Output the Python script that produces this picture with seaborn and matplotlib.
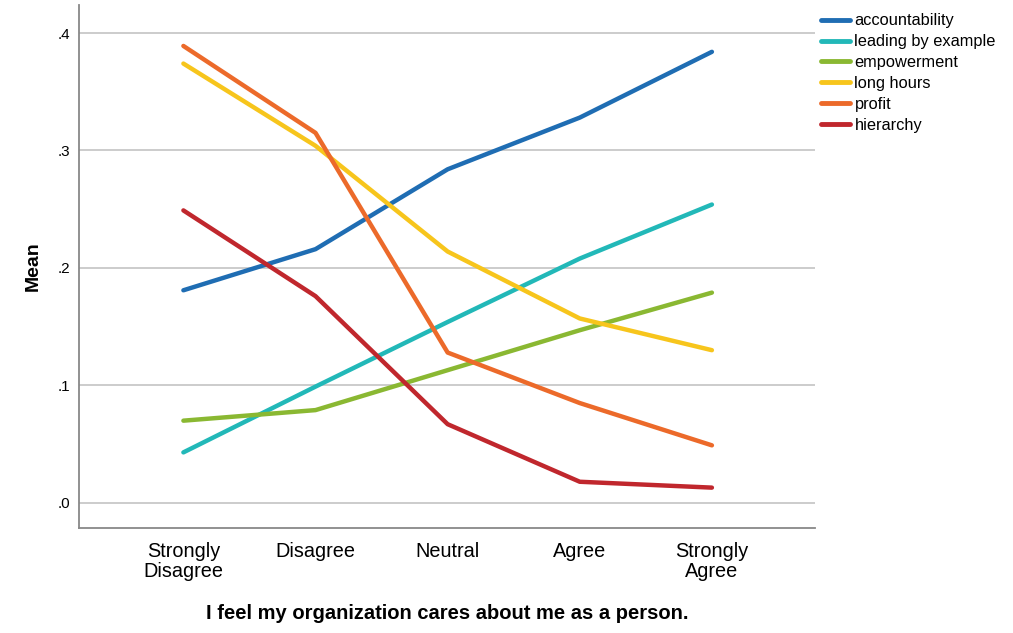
import numpy as np
import pandas as pd
import matplotlib
matplotlib.use("Agg")
import matplotlib.pyplot as plt
import seaborn as sns
from matplotlib.ticker import FuncFormatter
from matplotlib.lines import Line2D

categories = ["Strongly\nDisagree", "Disagree", "Neutral", "Agree", "Strongly\nAgree"]
series_names = ["accountability", "leading by example", "empowerment", "long hours", "profit", "hierarchy"]
accountability = [0.181, 0.216, 0.284, 0.328, 0.384]
leading_by_example = [0.043, 0.099, 0.154, 0.208, 0.254]
empowerment = [0.070, 0.079, 0.113, 0.147, 0.179]
long_hours = [0.374, 0.304, 0.214, 0.157, 0.130]
profit = [0.389, 0.315, 0.128, 0.085, 0.049]
hierarchy = [0.249, 0.176, 0.067, 0.018, 0.013]
colors = ["#1f6db3", "#22b8b8", "#8ab832", "#f7c51c", "#ec6a2a", "#c0272d"]

series_values = [accountability, leading_by_example, empowerment, long_hours, profit, hierarchy]
rows = []
for name, vals in zip(series_names, series_values):
    for i, v in enumerate(vals):
        rows.append({"pos": i, "Mean": v, "series": name})
df = pd.DataFrame(rows)

sns.set_theme(style="white")
plt.rcParams['font.family'] = ['Liberation Sans', 'DejaVu Sans']
plt.rcParams['text.color'] = 'black'
plt.rcParams['axes.labelcolor'] = 'black'
plt.rcParams['xtick.color'] = 'black'
plt.rcParams['ytick.color'] = 'black'

fig = plt.figure(figsize=(10.13, 6.33), dpi=100)
ax = fig.add_axes([0.078, 0.166, 0.7265, 0.826])

ax.set_axisbelow(True)
ax.yaxis.grid(True, color="#c8c8c8", linewidth=1.3)
ax.xaxis.grid(False)

sns.lineplot(data=df, x="pos", y="Mean", hue="series", hue_order=series_names,
             palette=colors, linewidth=3.2, ax=ax, legend=False)

ax.set_xlim(-0.79, 4.78)
ax.set_ylim(-0.0213, 0.4238)
ax.set_xticks(range(len(categories)))
ax.set_xticklabels(categories, fontsize=14.3, linespacing=1.1)
ax.set_yticks([0.0, 0.1, 0.2, 0.3, 0.4])
ax.yaxis.set_major_formatter(FuncFormatter(lambda v, p: ("%.1f" % v).lstrip("0")))
ax.tick_params(axis="y", labelsize=11, length=0, pad=6)
ax.tick_params(axis="x", length=0, pad=10)

for s in ["top", "right"]:
    ax.spines[s].set_visible(False)
for s in ["left", "bottom"]:
    ax.spines[s].set_color("#888888")
    ax.spines[s].set_linewidth(1.3)

ax.set_xlabel("I feel my organization cares about me as a person.", fontsize=14.5,
              fontweight="bold", labelpad=16)
ax.set_ylabel("Mean", fontsize=14, fontweight="bold", labelpad=12)

handles = [Line2D([0], [0], color=c, linewidth=3.5) for c in colors]
fig.legend(handles, series_names, loc="upper left", bbox_to_anchor=(0.799, 0.997),
           frameon=False, fontsize=11.8, handlelength=1.75, handletextpad=0.3,
           labelspacing=0.36, borderaxespad=0.3)

fig.savefig("out.png", dpi=100)
